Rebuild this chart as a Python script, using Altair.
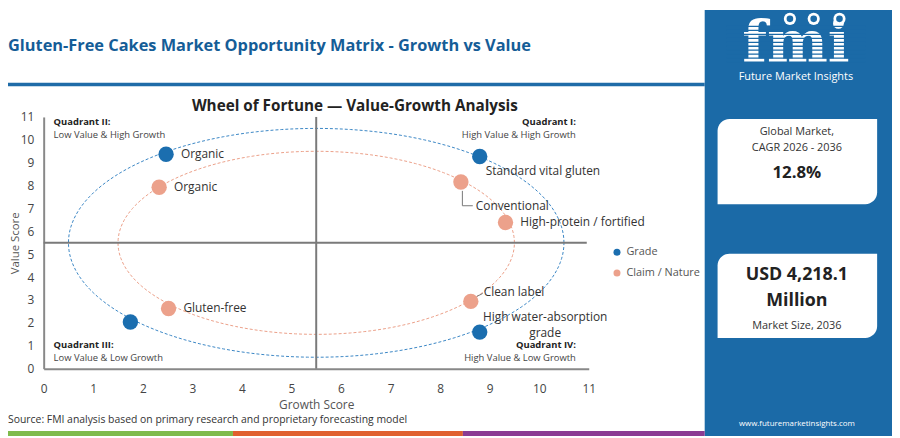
import altair as alt
import pandas as pd

# ---------------- data ----------------
point_ids = [0, 1, 2, 3, 4, 5, 6, 7, 8]
point_names = ["Organic", "Standard vital gluten", "Gluten-free", "High water-absorption\ngrade",
               "Organic", "Conventional", "High-protein / fortified", "Clean label", "Gluten-free"]
point_groups = ["Grade", "Grade", "Grade", "Grade",
                "Claim / Nature", "Claim / Nature", "Claim / Nature", "Claim / Nature", "Claim / Nature"]
growth_scores = [2.47, 8.80, 1.75, 8.80, 2.33, 8.42, 9.32, 8.62, 2.52]
value_scores = [9.37, 9.27, 2.04, 1.60, 7.93, 8.16, 6.39, 2.94, 2.63]

group_names = ["Grade", "Claim / Nature"]
group_colors = ["#1b6eaf", "#eca18b"]

axis_ticks = list(range(0, 12))
quad_center = 5.5
ring_radii = [5.0, 4.0]
ring_colors = ["#3a86c4", "#eb9f88"]

quadrant_titles = ["Quadrant I:", "Quadrant II:", "Quadrant III:", "Quadrant IV:"]
quadrant_subtitles = ["High Value & High Growth", "Low Value & High Growth",
                      "Low Value & Low Growth", "High Value & Low Growth"]

header_title = "Gluten-Free Cakes Market Opportunity Matrix - Growth vs Value"
chart_title = "Wheel of Fortune \u2014 Value-Growth Analysis"
source_note = "Source: FMI analysis based on primary research and proprietary forecasting model"
cagr_lines = ["Global Market,", "CAGR 2026 - 2036"]
cagr_value = "12.8%"
size_lines = ["USD 4,218.1", "Million"]
size_caption = "Market Size, 2036"
brand_name = "Future Market Insights"
brand_url = "www.futuremarketinsights.com"

df = pd.DataFrame({"id": point_ids, "name": point_names, "group": point_groups,
                   "growth": growth_scores, "value": value_scores})
one = pd.DataFrame({"k": [0]})

FONT = "Open Sans"
BLUE = "#1b6aa7"
X0, Y0 = 44, 116  # page position of the plot origin

xs = alt.Scale(domain=[0, 11], nice=False, zero=False)
ys = alt.Scale(domain=[0, 11], nice=False, zero=False)

x_axis = alt.Axis(
    values=axis_ticks, title="Growth Score", grid=False, ticks=False, domainColor="#888",
    domainWidth=2, labelFont=FONT, labelFontSize=12, labelColor="#444", labelPadding=15,
    labelFlush=False, labelOverlap=False, titleFont=FONT, titleFontSize=12, titleColor="#555",
    titleFontWeight="normal", titlePadding=5)
y_axis = alt.Axis(
    values=axis_ticks, title="Value Score", grid=False, ticks=False, domainColor="#888",
    domainWidth=2, labelFont=FONT, labelFontSize=12, labelColor="#444", labelPadding=10,
    labelFlush=False, labelOverlap=False, titleFont=FONT, titleFontSize=11.5, titleColor="#555",
    titleFontWeight="normal", titlePadding=0)


def X(field, **kw):
    return alt.X(field, scale=xs, axis=x_axis, **kw)


def Y(field, **kw):
    return alt.Y(field, scale=ys, axis=y_axis, **kw)


def px(v):
    return v - X0


def py(v):
    return v - Y0


def txt(XP, YP, s, size=12, weight="normal", color="#333", align="left", font=FONT, baseline="middle"):
    return alt.Chart(one).mark_text(fontSize=size, fontWeight=weight, color=color, align=align,
                                    baseline=baseline, font=font).encode(
        x=alt.value(px(XP)), y=alt.value(py(YP)), text=alt.value(s))


def box(X1, Y1, X2, Y2, color, **kw):
    return alt.Chart(one).mark_rect(color=color, **kw).encode(
        x=alt.value(px(X1)), x2=alt.value(px(X2)), y=alt.value(py(Y1)), y2=alt.value(py(Y2)))


layers = []

# right blue panel, header rule, bottom colour strip
layers.append(box(711, 8, 900, 438, BLUE))
layers.append(box(8, 81.5, 711, 85, "#1f6ca8"))
layers.append(box(8, 433, 235, 438, "#7fbb4c"))
layers.append(box(235, 433, 467, 438, "#e0602f"))
layers.append(box(467, 433, 711, 438, "#8b3b93"))

# points with axes and legend
points = alt.Chart(df).mark_circle(size=240, opacity=1).encode(
    x=X("growth:Q"),
    y=Y("value:Q"),
    color=alt.Color("group:N", scale=alt.Scale(domain=group_names, range=group_colors),
                    legend=alt.Legend(orient="none", legendX=573, legendY=131, title=None,
                                      symbolType="circle", symbolSize=50, symbolStrokeWidth=0,
                                      labelFont=FONT, labelFontSize=11, labelColor="#555",
                                      rowPadding=9, labelOffset=4)),
)

# rings
for r, c in zip(ring_radii, ring_colors):
    layers.append(
        alt.Chart(alt.sequence(0, 362, 2, as_="deg")).transform_calculate(
            ex=f"{quad_center} + {r} * cos(datum.deg * PI / 180)",
            ey=f"{quad_center} + {r} * sin(datum.deg * PI / 180)",
        ).mark_line(strokeDash=[3, 2], strokeWidth=1, color=c).encode(
            x=X("ex:Q"), y=Y("ey:Q"), order=alt.Order("deg:Q"),
        )
    )

# quadrant dividers
layers.append(alt.Chart(one).mark_rule(color="#7a7a7a", strokeWidth=2).encode(
    x=alt.X(datum=quad_center, scale=xs, axis=x_axis), y=alt.value(0), y2=alt.value(254)))
layers.append(alt.Chart(one).mark_rule(color="#7a7a7a", strokeWidth=2).encode(
    y=alt.Y(datum=quad_center, scale=ys, axis=y_axis), x=alt.value(0), x2=alt.value(548)))

# leader lines
conv = alt.Chart(df).transform_filter("datum.id == 5")
layers.append(conv.mark_rule(color="#777", strokeWidth=1, xOffset=1.5, x2Offset=1.5, yOffset=9, y2Offset=24).encode(
    x=X("growth:Q"), x2="growth:Q", y=Y("value:Q"), y2="value:Q"))
layers.append(conv.mark_rule(color="#777", strokeWidth=1, xOffset=1.5, x2Offset=12, yOffset=24, y2Offset=24).encode(
    x=X("growth:Q"), x2="growth:Q", y=Y("value:Q"), y2="value:Q"))
clean = alt.Chart(df).transform_filter("datum.id == 7")
layers.append(clean.mark_rule(color="#777", strokeWidth=1, xOffset=6, x2Offset=12, yOffset=-5, y2Offset=-8).encode(
    x=X("growth:Q"), x2="growth:Q", y=Y("value:Q"), y2="value:Q"))

layers.append(points)


def label_layer(ids, dx, dy, align="left"):
    return alt.Chart(df).transform_filter(
        alt.FieldOneOfPredicate(field="id", oneOf=ids)
    ).mark_text(font=FONT, fontSize=12, color="#333", align=align, baseline="middle",
                dx=dx, dy=dy, lineBreak="\n", lineHeight=16).encode(
        x=X("growth:Q"), y=Y("value:Q"), text="name:N")


layers.append(label_layer([0, 4, 6, 8], 15, 0))
layers.append(label_layer([1], 6, 14.5))
layers.append(label_layer([5], 15, 24))
layers.append(label_layer([7], 13, -9))
layers.append(label_layer([3], 66, -15, align="center"))

# quadrant captions
layers.append(txt(581, 121, quadrant_titles[0], 9.5, "bold", "#222", "right"))
layers.append(txt(581, 134, quadrant_subtitles[0], 9.5, "normal", "#444", "right"))
layers.append(txt(54, 121, quadrant_titles[1], 9.5, "bold", "#222"))
layers.append(txt(54, 134, quadrant_subtitles[1], 9.5, "normal", "#444"))
layers.append(txt(54, 346, quadrant_titles[2], 9.5, "bold", "#222"))
layers.append(txt(54, 359, quadrant_subtitles[2], 9.5, "normal", "#444"))
layers.append(txt(581, 346, quadrant_titles[3], 9.5, "bold", "#222", "right"))
layers.append(txt(581, 359, quadrant_subtitles[3], 9.5, "normal", "#444", "right"))

# titles and notes
layers.append(txt(8, 44, header_title, 16.5, "bold", "#155d97"))
layers.append(txt(358, 105, chart_title, 15.4, "bold", "#222", "center"))
layers.append(txt(8, 422, source_note, 10.5, "normal", "#333"))

# logo
layers.append(txt(803, 61, "fmi", 58, "bold", "white", "center", "DejaVu Serif", "alphabetic"))
layers.append(alt.Chart(one).mark_rule(color=BLUE, strokeWidth=140, strokeDash=[1.3, 2.7], strokeCap="butt").encode(
    x=alt.value(px(803)), y=alt.value(py(24)), y2=alt.value(py(64))))
for gx in [797, 821, 847]:
    layers.append(alt.Chart(one).mark_circle(size=150, color="white", opacity=1).encode(
        x=alt.value(px(gx)), y=alt.value(py(17))))
    layers.append(alt.Chart(one).mark_circle(size=45, color=BLUE, opacity=1).encode(
        x=alt.value(px(gx)), y=alt.value(py(17))))
layers.append(txt(803, 76, brand_name, 11, "normal", "white", "center"))

# info boxes
layers.append(box(724, 118, 885, 204, "white", cornerRadiusTopLeft=12, cornerRadiusBottomRight=12))
layers.append(txt(804, 131, cagr_lines[0], 11, "normal", "#333", "center"))
layers.append(txt(804, 147, cagr_lines[1], 11, "normal", "#333", "center"))
layers.append(txt(804, 173, cagr_value, 17, "bold", "#222", "center"))
layers.append(box(724, 254, 885, 339, "white", cornerRadiusTopLeft=12, cornerRadiusBottomRight=12))
layers.append(txt(804, 276, size_lines[0], 18, "bold", "#222", "center"))
layers.append(txt(804, 302, size_lines[1], 18, "bold", "#222", "center"))
layers.append(txt(804, 327, size_caption, 11, "normal", "#333", "center"))
layers.append(txt(804, 426, brand_url, 8, "normal", "white", "center"))

chart = alt.layer(*layers).properties(
    width=550, height=254,
    autosize=alt.AutoSizeParams(type="none"),
    padding={"left": 36, "top": 108, "right": 306, "bottom": 68},
    background="white",
).configure_view(strokeWidth=0)

chart.save("out.html", embed_options={"renderer": "svg", "actions": False})
